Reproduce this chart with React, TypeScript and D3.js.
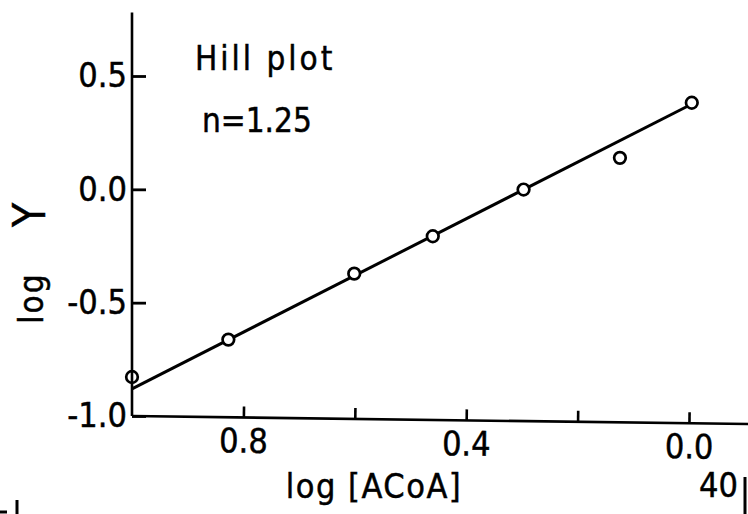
import React, { useEffect, useRef } from "react";
import * as d3 from "d3";

// Hill plot of ACoA binding: log Y against log [ACoA]
const logACoA = [1.0, 0.827, 0.601, 0.46, 0.297, 0.124, -0.005];
const logY = [-0.828, -0.663, -0.372, -0.207, -0.001, 0.139, 0.382];

// fitted straight line (slope gives n = 1.25)
const fitX = [1.0, 0.0];
const fitY = [-0.88, 0.37];

const xTickValues = [0.8, 0.6, 0.4, 0.2, 0.0];
const xTickLabels = ["0.8", "", "0.4", "", "0.0"];
const yTickValues = [0.5, 0.0, -0.5, -1.0];
const yTickLabels = ["0.5", "0.0", "-0.5", "-1.0"];

const W = 748;
const H = 514;
const FONT = "'DejaVu Sans Condensed', 'DejaVu Sans', sans-serif";
const INK = 0.45; // extra stroke to give the lettering its pen weight

export default function App() {
  const xAxisRef = useRef<SVGGElement>(null);
  const yAxisRef = useRef<SVGGElement>(null);

  const x = d3.scaleLinear().domain([1.0, 0.0]).range([132, 689]);
  const y = d3.scaleLinear().domain([-1.0, 0.5]).range([416, 76]);
  const yTop = 0.78;

  const line = d3
    .line<number>()
    .x((_, i) => x(fitX[i]))
    .y((d) => y(d));

  useEffect(() => {
    const gx = d3.select(xAxisRef.current!);
    gx.selectAll("*").remove();
    gx.call(
      d3
        .axisBottom(x)
        .tickValues(xTickValues)
        .tickFormat((_, i) => xTickLabels[i])
        .tickSizeInner(-11)
        .tickSizeOuter(0)
        .tickPadding(11)
    );
    gx.select(".domain").remove();
    gx.selectAll(".tick line").attr("stroke", "#000").attr("stroke-width", 2.6);
    gx.selectAll(".tick text")
      .attr("fill", "#000")
      .attr("stroke", "#000")
      .attr("stroke-width", INK)
      .style("font-family", FONT)
      .style("font-size", "34px");

    const gy = d3.select(yAxisRef.current!);
    gy.selectAll("*").remove();
    gy.call(
      d3
        .axisLeft(y)
        .tickValues(yTickValues)
        .tickFormat((_, i) => yTickLabels[i])
        .tickSizeInner(-14)
        .tickSizeOuter(0)
        .tickPadding(5)
    );
    gy.select(".domain").remove();
    gy.selectAll(".tick line").attr("stroke", "#000").attr("stroke-width", 2.8);
    gy.selectAll(".tick text")
      .attr("fill", "#000")
      .attr("stroke", "#000")
      .attr("stroke-width", INK)
      .style("font-family", FONT)
      .style("font-size", "34px");
  }, []);

  const x0 = x(1.0);
  const y0 = y(-1.0);

  const textProps = {
    fontFamily: FONT,
    fill: "#000",
    stroke: "#000",
    strokeWidth: INK,
  };

  return (
    <svg
      width={W}
      height={H}
      style={{ position: "absolute", left: 0, top: 0, background: "#fff" }}
    >
      <rect width={W} height={H} fill="#fff" />

      {/* fitted line */}
      <path d={line(fitY) || ""} fill="none" stroke="#000" strokeWidth={3} />

      {/* data points */}
      {logACoA.map((v, i) => (
        <circle
          key={i}
          cx={x(v)}
          cy={y(logY[i])}
          r={5.8}
          fill="#fff"
          stroke="#000"
          strokeWidth={2.7}
        />
      ))}

      {/* y axis */}
      <line x1={x0} x2={x0} y1={y(yTop)} y2={y0} stroke="#000" strokeWidth={2.6} />
      <g ref={yAxisRef} transform={`translate(${x0},0)`} />

      {/* x axis, hand drawn with a slight slope */}
      <g transform={`rotate(0.75 ${x0} ${y0})`}>
        <line x1={x0} x2={W + 10} y1={y0} y2={y0} stroke="#000" strokeWidth={2.6} />
        <g ref={xAxisRef} transform={`translate(0,${y0})`} />
      </g>

      {/* axis titles */}
      <text x={374} y={498} textAnchor="middle" fontSize={34} letterSpacing={1.5} {...textProps}>
        log [ACoA]
      </text>
      <text
        transform="translate(43,298) rotate(-90)"
        textAnchor="middle"
        fontSize={33}
        letterSpacing={2}
        {...textProps}
      >
        log
      </text>
      <text
        transform="translate(45,215) rotate(-90)"
        textAnchor="middle"
        fontSize={44}
        {...textProps}
      >
        Y
      </text>

      {/* annotation */}
      <text x={195} y={70} fontSize={33} letterSpacing={3} {...textProps}>
        Hill plot
      </text>
      <text x={202} y={132} fontSize={33} {...textProps}>
        n=1.25
      </text>

      {/* neighbouring figure fragments at the edges */}
      <text x={699} y={497} fontSize={34} {...textProps}>
        40
      </text>
      <line x1={745} x2={745} y1={477} y2={H} stroke="#000" strokeWidth={3} />
      <line x1={17} x2={17} y1={500} y2={H} stroke="#000" strokeWidth={3} />
      <line x1={0} x2={7} y1={512} y2={512} stroke="#000" strokeWidth={3} />
    </svg>
  );
}
